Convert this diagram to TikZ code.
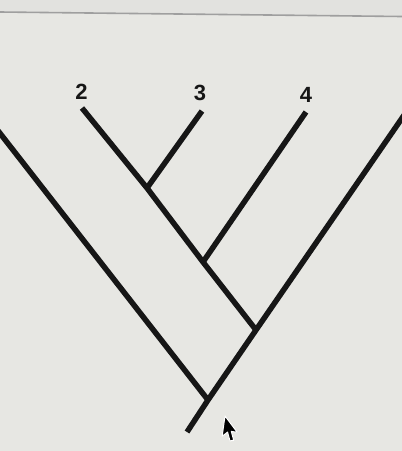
\documentclass[tikz,border=0pt]{standalone}
\usepackage{fontspec}
\setmainfont{Liberation Sans}
\usepackage{tikz}

\definecolor{screen}{RGB}{231,231,227}
\definecolor{bar}{RGB}{226,226,223}
\definecolor{ink}{RGB}{22,22,22}

\begin{document}
\begin{tikzpicture}[x=1pt,y=-1pt,line width=5pt,ink]
\tikzstyle{branch}=[draw=ink,line width=5.5pt]
  	\tikzstyle{taxon}=[font=\bfseries\fontsize{22}{22}\selectfont,text=ink,inner sep=0pt]
\useasboundingbox (0,0) rectangle (402,451);
\fill[screen] (0,0) rectangle (402,451);
\fill[bar] (0,0) -- (402,0) -- (402,16) -- (0,12) -- cycle;
\draw[line width=1.6pt,gray!75] (0,12) -- (402,16.5);
\clip (0,0) rectangle (402,451);

% tips and nodes of the tree
\coordinate (t1) at (-8,123);
\coordinate (t2) at (82,108);
\coordinate (t3) at (202,111);
\coordinate (t4) at (306,112);
\coordinate (t5) at (409,108);
\coordinate (j23) at (147,188);
\coordinate (j234) at (203,262);
\coordinate (j2345) at (256,330);
\coordinate (jall) at (208,400);
\coordinate (root) at (187,432);

\node[taxon] (n2) at (81.5,91.5) {2};
\node[taxon] (n3) at (200,92.5) {3};
\node[taxon] (n4) at (306,95) {4};

\path[branch] (t1) -- (jall);
\path[branch] (t5) -- (j2345) -- (jall) -- (root);
\path[branch] (t2) -- (j23) -- (j234) -- (j2345);
\path[branch] (t3) -- (j23);
\path[branch] (t4) -- (j234);

% mouse pointer
\draw[fill=black,draw=white,line width=1pt,line join=round,shift={(225,416)},rotate=-8,scale=1.2]
  (0,0) -- (0,17) -- (4,13) -- (7,20) -- (10,19) -- (7,12) -- (12,12) -- cycle;

	\end{tikzpicture}
\end{document}
